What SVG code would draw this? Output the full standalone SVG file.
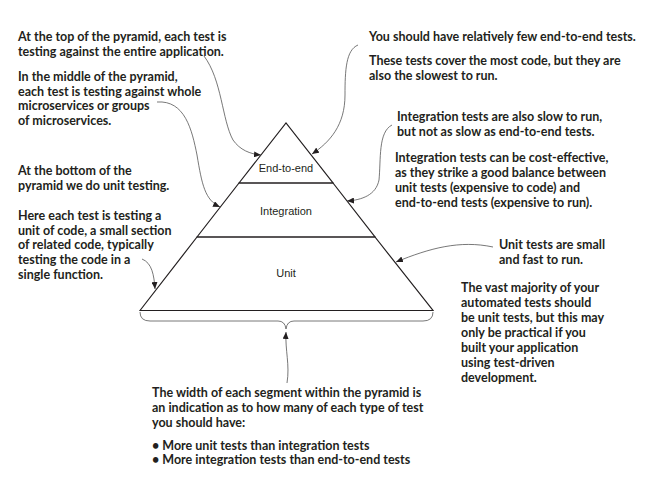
<svg xmlns="http://www.w3.org/2000/svg" width="663" height="482" viewBox="0 0 663 482">
<style>
.note{font-family:Lato,"Open Sans","Liberation Sans",sans-serif;font-weight:bold;font-size:12.5px;fill:#231f20}
.lbl{font-family:"Liberation Sans",Arial,sans-serif;font-size:11px;fill:#231f20;text-anchor:middle}
.edge{fill:none;stroke:#231f20;stroke-width:1.2}
.con{fill:none;stroke:#555;stroke-width:0.8}
</style>
<defs>
<marker id="ah" markerWidth="8" markerHeight="6" refX="7" refY="3" orient="auto" markerUnits="userSpaceOnUse">
<path d="M0,0 L7,3 L0,6 z" fill="#231f20"/>
</marker>
</defs>
<rect width="663" height="482" fill="#fff"/>

<g id="pyramid-e2e">
<path class="edge" d="M239,183 L286,123 L333,183 Z"/>
<text class="lbl" x="286" y="172">End-to-end</text>
</g>
<g id="pyramid-integration">
<path class="edge" d="M197,237 L239,183 L333,183 L375,237 Z"/>
<text class="lbl" x="286" y="215">Integration</text>
</g>
<g id="pyramid-unit">
<path class="edge" d="M140,310.5 L197,237 L375,237 L433,310.5 Z"/>
<text class="lbl" x="286" y="277">Unit</text>
</g>
<g id="brace">
<path class="con" d="M140,312 Q140,321 150,321 L278,321 Q285,321 286,329 Q287,321 294,321 L423,321 Q433,321 433,312"/>
</g>

<g id="note-top">
<text class="note" x="18" y="41">At the top of the pyramid, each test is</text>
<text class="note" x="18" y="55.5">testing against the entire application.</text>
</g>
<g id="note-middle">
<text class="note" x="18" y="81">In the middle of the pyramid,</text>
<text class="note" x="18" y="95.5">each test is testing against whole</text>
<text class="note" x="18" y="110">microservices or groups</text>
<text class="note" x="18" y="124.5">of microservices.</text>
</g>
<g id="note-bottom">
<text class="note" x="18" y="175">At the bottom of the</text>
<text class="note" x="18" y="190">pyramid we do unit testing.</text>
</g>
<g id="note-unit-code">
<text class="note" x="18" y="220">Here each test is testing a</text>
<text class="note" x="18" y="234.5">unit of code, a small section</text>
<text class="note" x="18" y="249">of related code, typically</text>
<text class="note" x="18" y="264">testing the code in a</text>
<text class="note" x="18" y="278.5">single function.</text>
</g>
<g id="note-e2e">
<text class="note" x="369" y="41">You should have relatively few end-to-end tests.</text>
<text class="note" x="369" y="65">These tests cover the most code, but they are</text>
<text class="note" x="369" y="79.5">also the slowest to run.</text>
</g>
<g id="note-integration">
<text class="note" x="397" y="121">Integration tests are also slow to run,</text>
<text class="note" x="397" y="136">but not as slow as end-to-end tests.</text>
<text class="note" x="395" y="162">Integration tests can be cost-effective,</text>
<text class="note" x="395" y="177">as they strike a good balance between</text>
<text class="note" x="395" y="192">unit tests (expensive to code) and</text>
<text class="note" x="395" y="207">end-to-end tests (expensive to run).</text>
</g>
<g id="note-unit">
<text class="note" x="499" y="249">Unit tests are small</text>
<text class="note" x="499" y="264">and fast to run.</text>
<text class="note" x="461" y="292">The vast majority of your</text>
<text class="note" x="461" y="307">automated tests should</text>
<text class="note" x="461" y="322">be unit tests, but this may</text>
<text class="note" x="461" y="337">only be practical if you</text>
<text class="note" x="461" y="352">built your application</text>
<text class="note" x="461" y="367">using test-driven</text>
<text class="note" x="461" y="382">development.</text>
</g>
<g id="note-width">
<text class="note" x="152" y="397">The width of each segment within the pyramid is</text>
<text class="note" x="152" y="412">an indication as to how many of each type of test</text>
<text class="note" x="152" y="427">you should have:</text>
<text class="note" x="152" y="450">• More unit tests than integration tests</text>
<text class="note" x="152" y="464">• More integration tests than end-to-end tests</text>
</g>

<g id="connectors">
<path class="con" marker-end="url(#ah)" d="M204,56 C222,80 222,120 233,140 C240,150 250,154 261,155"/>
<path class="con" marker-end="url(#ah)" d="M358,45 C346,50 345,70 345,95 C345,125 330,142 312,154"/>
<path class="con" marker-end="url(#ah)" d="M157,102 C185,100 192,130 197,155 C202,185 205,200 220,207"/>
<path class="con" marker-end="url(#ah)" d="M392,125 C378,132 381,160 379,180 C376,195 362,200 347,201"/>
<path class="con" marker-end="url(#ah)" d="M493,247 C460,240 430,248 396,262"/>
<path class="con" marker-end="url(#ah)" d="M142,259 C152,263 154,275 155,289"/>
<path class="con" marker-end="url(#ah)" d="M287,383 C290,365 285,350 286,332"/>
</g>
</svg>
